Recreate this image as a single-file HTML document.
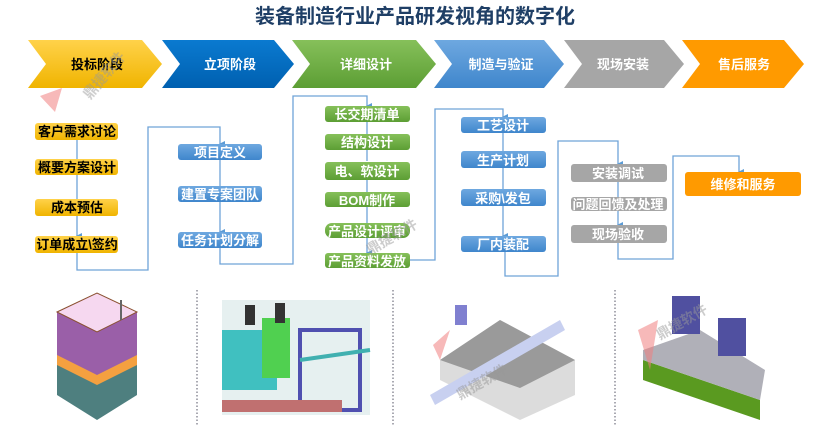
<!DOCTYPE html>
<html><head><meta charset="utf-8"><style>
body{margin:0;background:#fff;width:830px;height:435px;overflow:hidden;font-family:"Liberation Sans","Noto Sans CJK SC",sans-serif}
</style></head><body>
<svg width="830" height="435" xmlns="http://www.w3.org/2000/svg" font-family="Liberation Sans, Noto Sans CJK SC, sans-serif">
<defs>
<linearGradient id="gy" x1="0" y1="0" x2="0" y2="1"><stop offset="0" stop-color="#ffd24a"/><stop offset="1" stop-color="#f0b400"/></linearGradient>
<linearGradient id="gb" x1="0" y1="0" x2="0" y2="1"><stop offset="0" stop-color="#0a7ad0"/><stop offset="1" stop-color="#0060b0"/></linearGradient>
<linearGradient id="gg" x1="0" y1="0" x2="0" y2="1"><stop offset="0" stop-color="#86c05a"/><stop offset="1" stop-color="#5c9e34"/></linearGradient>
<linearGradient id="gl" x1="0" y1="0" x2="0" y2="1"><stop offset="0" stop-color="#6ea8e0"/><stop offset="1" stop-color="#3f86cc"/></linearGradient>
<marker id="ar" markerWidth="6" markerHeight="6" refX="3" refY="5" orient="auto" markerUnits="userSpaceOnUse"><path d="M0,0 L6,0 L3,6 z" fill="#5b9bd5"/></marker>
</defs>
<text x="415" y="23" text-anchor="middle" font-size="20" font-weight="bold" fill="#1f3f66">装备制造行业产品研发视角的数字化</text>
<g>
<polygon points="28,40 142,40 162,64 142,88 28,88 46,64" fill="url(#gy)"/>
<polygon points="162,40 274,40 294,64 274,88 162,88 180,64" fill="url(#gb)"/>
<polygon points="292,40 416,40 436,64 416,88 292,88 310,64" fill="url(#gg)"/>
<polygon points="434,40 544,40 564,64 544,88 434,88 452,64" fill="url(#gl)"/>
<polygon points="564,40 664,40 684,64 664,88 564,88 582,64" fill="#a6a6a6"/>
<polygon points="682,40 784,40 804,64 784,88 682,88 700,64" fill="#ff9a00"/>
</g>
<g font-size="13" font-weight="bold" text-anchor="middle">
<text x="97" y="69" fill="#000">投标阶段</text>
<text x="230" y="69" fill="#fff">立项阶段</text>
<text x="366" y="69" fill="#fff">详细设计</text>
<text x="501" y="69" fill="#fff">制造与验证</text>
<text x="623" y="69" fill="#fff">现场安装</text>
<text x="744" y="69" fill="#fff">售后服务</text>
</g>
<g fill="none" stroke="#6fa3d8" stroke-width="1.3">
<path d="M77,140V159M77,175V199M77,216V236" marker-end="url(#ar)"/>
<path d="M77,253V270H148V127H220V144" marker-end="url(#ar)"/>
<path d="M220,160V186M220,202V232" marker-end="url(#ar)"/>
<path d="M220,248V264H293V96H367V106" marker-end="url(#ar)"/>
<path d="M367,122V134M367,150V161M367,180V192M367,207V223M367,238V253" marker-end="url(#ar)"/>
<path d="M410,260H435V109H503V117" marker-end="url(#ar)"/>
<path d="M503,133V151M503,168V189M503,206V236" marker-end="url(#ar)"/>
<path d="M505,252V276H558V141H618V164" marker-end="url(#ar)"/>
<path d="M618,182V197M618,211V225" marker-end="url(#ar)"/>
<path d="M618,243V259H673V156H739V172" marker-end="url(#ar)"/>
</g>
<g font-size="13" font-weight="bold" text-anchor="middle">
<g fill="url(#gy)"><rect x="35" y="123" width="83" height="17" rx="3"/><rect x="35" y="159" width="83" height="16" rx="3"/><rect x="35" y="199" width="83" height="17" rx="3"/><rect x="35" y="236" width="83" height="17" rx="3"/></g>
<g fill="#000"><text x="77" y="136">客户需求讨论</text><text x="77" y="172">概要方案设计</text><text x="77" y="212">成本预估</text><text x="77" y="249">订单成立\签约</text></g>
<g fill="url(#gl)"><rect x="178" y="144" width="84" height="16" rx="3"/><rect x="178" y="186" width="84" height="16" rx="3"/><rect x="178" y="232" width="84" height="16" rx="3"/></g>
<g fill="#fff"><text x="220" y="157">项目定义</text><text x="220" y="199">建置专案团队</text><text x="220" y="245">任务计划分解</text></g>
<g fill="url(#gg)"><rect x="325" y="106" width="85" height="16" rx="3"/><rect x="325" y="134" width="85" height="16" rx="3"/><rect x="325" y="162" width="85" height="18" rx="3"/><rect x="325" y="192" width="85" height="15" rx="3"/><rect x="325" y="223" width="85" height="15" rx="7"/><rect x="325" y="253" width="85" height="15" rx="3"/></g>
<g fill="#fff"><text x="367" y="119">长交期清单</text><text x="367" y="147">结构设计</text><text x="367" y="176">电、软设计</text><text x="367" y="205">BOM制作</text><text x="367" y="236">产品设计评审</text><text x="367" y="266">产品资料发放</text></g>
<g fill="url(#gl)"><rect x="461" y="117" width="85" height="16" rx="3"/><rect x="461" y="151" width="85" height="17" rx="3"/><rect x="461" y="189" width="85" height="17" rx="3"/><rect x="461" y="236" width="85" height="16" rx="3"/></g>
<g fill="#fff"><text x="503" y="130">工艺设计</text><text x="503" y="165">生产计划</text><text x="503" y="203">采购\发包</text><text x="503" y="249">厂内装配</text></g>
<g fill="#a6a6a6"><rect x="571" y="164" width="96" height="18" rx="3"/><rect x="571" y="197" width="96" height="14" rx="3"/><rect x="571" y="225" width="96" height="18" rx="3"/></g>
<g fill="#fff"><text x="618" y="178">安装调试</text><text x="618" y="209">问题回馈及处理</text><text x="618" y="239">现场验收</text></g>
<rect x="685" y="172" width="116" height="24" rx="3" fill="#ff9a00"/>
<text x="743" y="189" fill="#fff">维修和服务</text>
</g>
<g stroke="#556" stroke-dasharray="1.5,2" stroke-width="1"><line x1="197" y1="290" x2="197" y2="425"/><line x1="393" y1="290" x2="393" y2="425"/><line x1="615" y1="290" x2="615" y2="425"/></g>
<!-- machine 1 -->
<polygon points="57,355 97,335 137,355 137,395 97,420 57,395" fill="#4e7f7f"/>
<polygon points="57,355 97,335 137,355 137,365 97,385 57,365" fill="#f4a040"/>
<polygon points="57,312 97,293 137,312 137,355 97,375 57,355" fill="#9a5fa8"/>
<polygon points="57,312 97,293 137,312 97,332" fill="#f6d8f0" stroke="#8a5030"/>
<rect x="120" y="300" width="2" height="20" fill="#666"/>
<!-- machine 2 -->
<rect x="222" y="300" width="148" height="115" fill="#e6f0f0"/>
<rect x="222" y="330" width="55" height="60" fill="#40c0c0"/>
<rect x="262" y="318" width="28" height="60" fill="#50d050"/>
<rect x="245" y="305" width="10" height="20" fill="#333"/>
<rect x="275" y="303" width="10" height="20" fill="#333"/>
<rect x="300" y="330" width="60" height="80" fill="none" stroke="#5050b0" stroke-width="4"/>
<line x1="300" y1="360" x2="370" y2="350" stroke="#40b0b0" stroke-width="4"/>
<rect x="222" y="400" width="120" height="12" fill="#c07070"/>
<!-- machine 3 -->
<polygon points="440,360 500,320 575,360 575,395 520,420 440,380" fill="#dcdcdc"/>
<polygon points="440,360 500,320 575,360 520,388" fill="#9a9a9a"/>
<polygon points="430,395 560,320 565,330 435,405" fill="#c8d0f0"/>
<rect x="455" y="305" width="12" height="20" fill="#8080d0"/>
<!-- machine 4 -->
<polygon points="643,360 760,400 760,420 643,380" fill="#5a9a20"/>
<polygon points="643,350 700,330 765,370 760,400 643,360" fill="#b0b0b8"/>
<rect x="672" y="296" width="28" height="38" fill="#5050a0"/>
<rect x="718" y="318" width="28" height="38" fill="#5050a0"/>
<g fill="#f08080" opacity="0.55"><polygon points="40,96 62,88 55,112"/><polygon points="638,330 658,320 650,370"/><polygon points="433,345 450,330 440,360"/></g>
<g fill="#999" opacity="0.5" font-size="14" font-weight="bold"><text x="90" y="100" transform="rotate(-50 90 100)">鼎捷软件</text><text x="370" y="255" transform="rotate(-30 370 255)">鼎捷软件</text><text x="460" y="400" transform="rotate(-30 460 400)">鼎捷软件</text><text x="660" y="340" transform="rotate(-30 660 340)">鼎捷软件</text></g>
</svg>
</body></html>
